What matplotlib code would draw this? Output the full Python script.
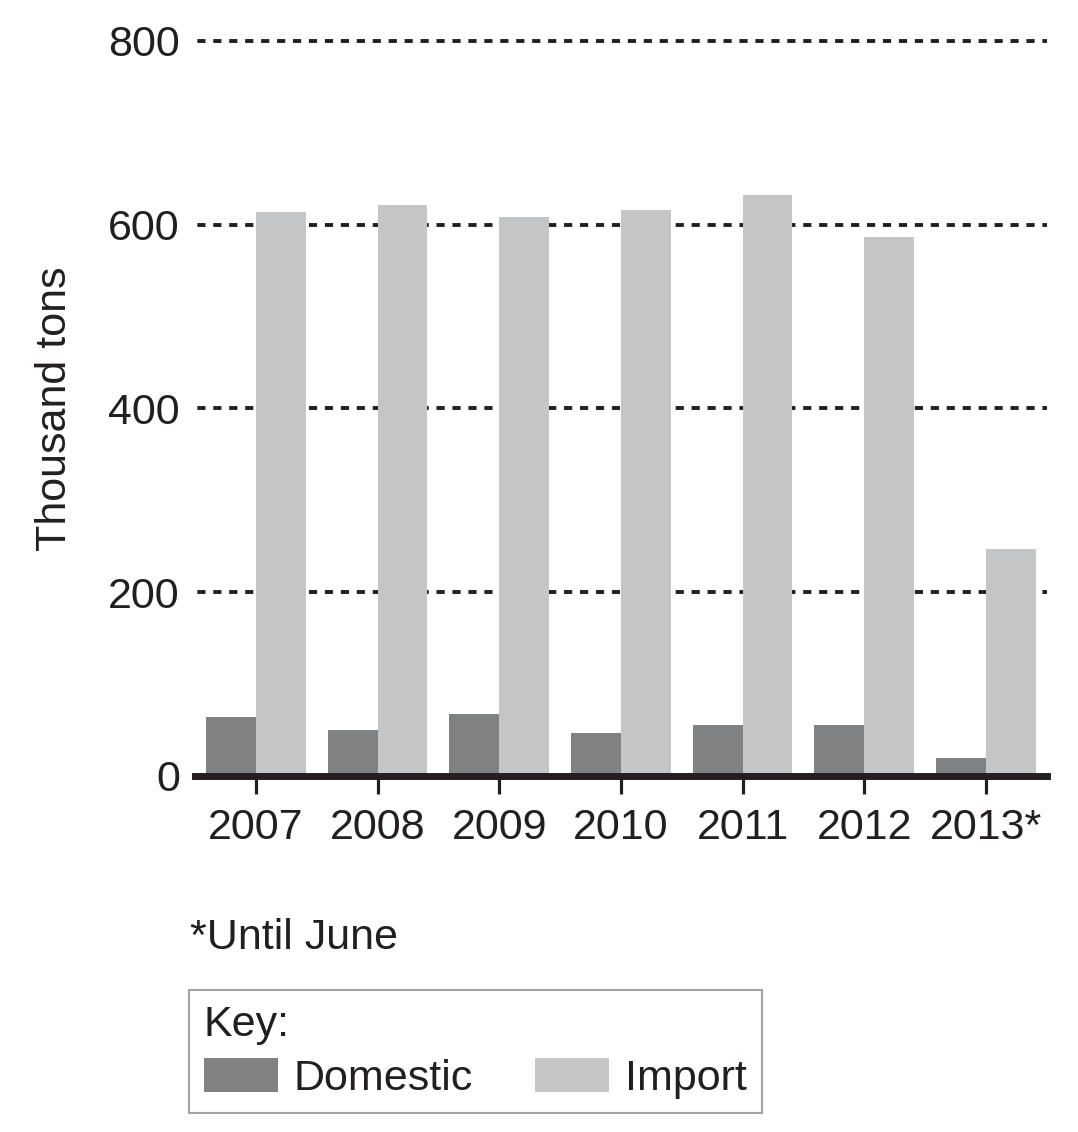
import matplotlib
matplotlib.use("Agg")
import matplotlib.pyplot as plt
import numpy as np

# Values (thousand tons)
years = ["2007", "2008", "2009", "2010", "2011", "2012", "2013*"]
domestic = [64, 50, 68, 47, 56, 56, 20]
imports = [614, 622, 608, 616, 632, 587, 247]
y_ticks = [0, 200, 400, 600, 800]

DOMESTIC_COLOR = "#808183"
IMPORT_COLOR = "#c4c5c7"
TEXT_COLOR = "#231f20"
FS = 31

plt.rcParams["font.family"] = ["Liberation Sans", "DejaVu Sans"]
plt.rcParams["text.color"] = TEXT_COLOR

fig = plt.figure(figsize=(10.78, 11.32), dpi=100)
ax = fig.add_axes([0.181, 0.3145, 0.790, 0.6493])

x = np.arange(len(years))
width = 0.41
ax.bar(x - width / 2, domestic, width, color=DOMESTIC_COLOR, label="Domestic", zorder=3)
ax.bar(x + width / 2, imports, width, color=IMPORT_COLOR, label="Import", zorder=3)

ax.set_xlim(-0.5, len(years) - 0.5)
ax.set_ylim(0, 800)
ax.set_yticks(y_ticks)
ax.set_yticklabels([str(t) for t in y_ticks])
ax.set_xticks(x)
ax.set_xticklabels(years)

# dashed gridlines behind the bars
for t in y_ticks[1:]:
    ax.axhline(t, color=TEXT_COLOR, linewidth=2.8,
               linestyle=(3.5, (2.1, 2.0)), zorder=1, clip_on=False)

for side in ["top", "right", "left"]:
    ax.spines[side].set_visible(False)
ax.spines["bottom"].set_linewidth(5)
ax.spines["bottom"].set_color(TEXT_COLOR)
ax.spines["bottom"].set_zorder(4)

ax.tick_params(axis="y", length=0, pad=11, labelsize=FS, labelcolor=TEXT_COLOR)
ax.tick_params(axis="x", length=13, width=2.3, color=TEXT_COLOR, pad=10,
               labelsize=FS, labelcolor=TEXT_COLOR)

ax.set_ylabel("Thousand tons", fontsize=FS, labelpad=24, color=TEXT_COLOR)

fig.text(190 / 1078, 1 - 938 / 1132, "*Until June", fontsize=FS, va="center", ha="left")

leg = fig.legend(
    loc="upper left",
    bbox_to_anchor=(189 / 1078, 1 - 990 / 1132),
    ncol=2,
    title="Key:",
    fontsize=FS,
    title_fontsize=FS,
    alignment="left",
    frameon=True,
    fancybox=False,
    edgecolor="#8c8c8c",
    handlelength=1.72,
    handleheight=0.86,
    handletextpad=0.37,
    columnspacing=1.45,
    borderpad=0.34,
    labelspacing=0.3,
    borderaxespad=0,
)
leg.get_frame().set_linewidth(1.5)

plt.savefig("out.png", dpi=100)
plt.close()
